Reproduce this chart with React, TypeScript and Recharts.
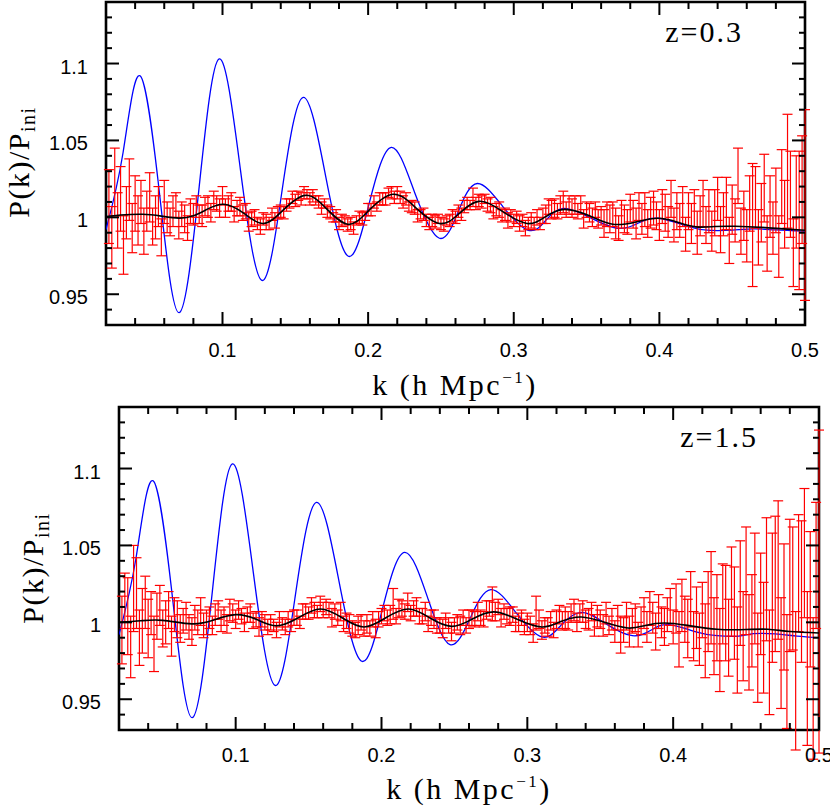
import React from 'react';
import { ComposedChart, XAxis, YAxis, Line, Scatter, ErrorBar, ReferenceArea } from 'recharts';

// k grid of the measured points (h/Mpc)
const kGrid = [
  0.022, 0.024, 0.026, 0.028, 0.03, 0.032, 0.034, 0.036, 0.038, 0.04,
  0.042, 0.044, 0.046, 0.048, 0.05, 0.052, 0.054, 0.056, 0.058, 0.06,
  0.062, 0.064, 0.066, 0.068, 0.07, 0.072, 0.074, 0.076, 0.078, 0.08,
  0.082, 0.084, 0.086, 0.088, 0.09, 0.092, 0.094, 0.096, 0.098, 0.1,
  0.102, 0.104, 0.106, 0.108, 0.11, 0.112, 0.114, 0.116, 0.118, 0.12,
  0.122, 0.124, 0.126, 0.128, 0.13, 0.132, 0.134, 0.136, 0.138, 0.14,
  0.142, 0.144, 0.146, 0.148, 0.15, 0.152, 0.154, 0.156, 0.158, 0.16,
  0.162, 0.164, 0.166, 0.168, 0.17, 0.172, 0.174, 0.176, 0.178, 0.18,
  0.182, 0.184, 0.186, 0.188, 0.19, 0.192, 0.194, 0.196, 0.198, 0.2,
  0.202, 0.204, 0.206, 0.208, 0.21, 0.212, 0.214, 0.216, 0.218, 0.22,
  0.222, 0.224, 0.226, 0.228, 0.23, 0.232, 0.234, 0.236, 0.238, 0.24,
  0.242, 0.244, 0.246, 0.248, 0.25, 0.252, 0.254, 0.256, 0.258, 0.26,
  0.262, 0.264, 0.266, 0.268, 0.27, 0.272, 0.274, 0.276, 0.278, 0.28,
  0.282, 0.284, 0.286, 0.288, 0.29, 0.292, 0.294, 0.296, 0.298, 0.3,
  0.302, 0.304, 0.306, 0.308, 0.31, 0.312, 0.314, 0.316, 0.318, 0.32,
  0.322, 0.324, 0.326, 0.328, 0.33, 0.332, 0.334, 0.336, 0.338, 0.34,
  0.342, 0.344, 0.346, 0.348, 0.35, 0.352, 0.354, 0.356, 0.358, 0.36,
  0.362, 0.364, 0.366, 0.368, 0.37, 0.372, 0.374, 0.376, 0.378, 0.38,
  0.382, 0.384, 0.386, 0.388, 0.39, 0.392, 0.394, 0.396, 0.398, 0.4,
  0.402, 0.404, 0.406, 0.408, 0.41, 0.412, 0.414, 0.416, 0.418, 0.42,
  0.422, 0.424, 0.426, 0.428, 0.43, 0.432, 0.434, 0.436, 0.438, 0.44,
  0.442, 0.444, 0.446, 0.448, 0.45, 0.452, 0.454, 0.456, 0.458, 0.46,
  0.462, 0.464, 0.466, 0.468, 0.47, 0.472, 0.474, 0.476, 0.478, 0.48,
  0.482, 0.484, 0.486, 0.488, 0.49, 0.492, 0.494, 0.496, 0.498, 0.5,
];

// z=0.3 measured ratio and 1-sigma errors
const ratioTop = [
  1.007, 0.987, 1.023, 0.998, 1.012, 0.982, 1.003, 1.018, 0.993, 1.009,
  0.998, 1.010, 0.991, 1.004, 1.013, 0.994, 1.000, 1.007, 0.987, 1.010,
  1.000, 0.997, 1.004, 1.008, 0.995, 1.002, 0.999, 0.993, 1.004, 1.002,
  1.007, 1.002, 1.001, 1.007, 1.007, 1.003, 1.011, 1.009, 1.006, 1.014,
  1.006, 1.009, 1.010, 1.002, 1.006, 1.007, 1.003, 1.004, 0.997, 0.999,
  1.000, 0.996, 0.994, 0.999, 0.997, 0.996, 1.002, 0.998, 1.003, 1.004,
  1.003, 1.008, 1.009, 1.013, 1.011, 1.014, 1.012, 1.016, 1.015, 1.012,
  1.014, 1.011, 1.010, 1.006, 1.009, 1.004, 1.003, 1.000, 1.001, 0.996,
  0.998, 0.998, 0.995, 0.996, 0.993, 0.998, 1.000, 0.999, 1.001, 1.005,
  1.005, 1.010, 1.007, 1.012, 1.012, 1.012, 1.016, 1.016, 1.013, 1.016,
  1.013, 1.010, 1.012, 1.007, 1.007, 1.006, 1.001, 1.002, 1.002, 0.998,
  0.996, 0.998, 0.997, 0.999, 0.996, 0.995, 0.998, 0.998, 1.001, 1.000,
  1.004, 1.002, 1.007, 1.009, 1.008, 1.013, 1.009, 1.011, 1.010, 1.012,
  1.008, 1.008, 1.003, 1.005, 1.005, 1.001, 1.002, 0.998, 1.001, 0.998,
  1.000, 0.996, 0.998, 0.993, 0.996, 0.998, 0.996, 1.000, 0.996, 1.001,
  1.002, 1.007, 1.005, 1.006, 1.004, 1.008, 1.010, 1.005, 1.008, 1.006,
  1.008, 1.004, 1.008, 0.999, 1.005, 1.003, 1.000, 1.005, 0.999, 1.001,
  0.996, 1.002, 0.999, 1.002, 0.996, 0.993, 1.002, 0.999, 0.997, 1.006,
  1.002, 0.996, 1.007, 0.999, 1.005, 0.996, 1.003, 1.006, 1.001, 0.995,
  1.007, 1.003, 0.997, 1.012, 0.995, 1.004, 0.998, 1.007, 0.989, 1.004,
  0.996, 1.006, 0.990, 1.001, 1.009, 0.995, 1.004, 0.991, 1.003, 1.012,
  0.992, 1.002, 1.009, 0.985, 1.005, 0.998, 1.027, 0.991, 1.001, 0.988,
  1.009, 0.995, 1.013, 0.987, 1.003, 1.019, 0.983, 1.007, 0.993, 1.011,
  0.981, 1.020, 1.002, 1.030, 1.015, 0.977, 1.010, 0.998, 1.018, 1.008,
];
const errTop = [
  0.024, 0.020, 0.022, 0.018, 0.021, 0.019, 0.017, 0.020, 0.016, 0.018,
  0.016, 0.014, 0.015, 0.013, 0.016, 0.012, 0.014, 0.013, 0.012, 0.014,
  0.010, 0.009, 0.010, 0.008, 0.009, 0.008, 0.009, 0.008, 0.008, 0.007,
  0.007, 0.006, 0.007, 0.006, 0.007, 0.006, 0.006, 0.005, 0.006, 0.006,
  0.006, 0.005, 0.006, 0.005, 0.005, 0.006, 0.005, 0.005, 0.006, 0.005,
  0.005, 0.004, 0.005, 0.004, 0.005, 0.004, 0.004, 0.005, 0.004, 0.004,
  0.004, 0.004, 0.003, 0.004, 0.004, 0.003, 0.004, 0.004, 0.003, 0.004,
  0.004, 0.003, 0.004, 0.004, 0.003, 0.004, 0.004, 0.003, 0.004, 0.004,
  0.004, 0.003, 0.004, 0.004, 0.004, 0.003, 0.004, 0.004, 0.003, 0.004,
  0.004, 0.004, 0.003, 0.004, 0.004, 0.004, 0.003, 0.004, 0.004, 0.004,
  0.004, 0.004, 0.004, 0.003, 0.004, 0.004, 0.004, 0.003, 0.004, 0.004,
  0.004, 0.004, 0.004, 0.003, 0.004, 0.004, 0.003, 0.004, 0.004, 0.004,
  0.004, 0.004, 0.004, 0.004, 0.003, 0.006, 0.004, 0.004, 0.004, 0.003,
  0.004, 0.005, 0.004, 0.004, 0.005, 0.004, 0.004, 0.005, 0.004, 0.004,
  0.004, 0.005, 0.004, 0.005, 0.004, 0.005, 0.004, 0.005, 0.004, 0.005,
  0.006, 0.005, 0.006, 0.006, 0.005, 0.006, 0.007, 0.005, 0.006, 0.006,
  0.006, 0.005, 0.006, 0.006, 0.005, 0.006, 0.006, 0.005, 0.006, 0.006,
  0.009, 0.008, 0.009, 0.008, 0.010, 0.008, 0.009, 0.009, 0.008, 0.009,
  0.009, 0.010, 0.009, 0.010, 0.011, 0.009, 0.010, 0.011, 0.009, 0.010,
  0.011, 0.012, 0.010, 0.012, 0.011, 0.012, 0.011, 0.013, 0.011, 0.012,
  0.013, 0.012, 0.014, 0.013, 0.015, 0.012, 0.014, 0.013, 0.015, 0.014,
  0.015, 0.014, 0.017, 0.015, 0.016, 0.014, 0.018, 0.015, 0.016, 0.017,
  0.018, 0.040, 0.020, 0.018, 0.019, 0.022, 0.018, 0.020, 0.017, 0.021,
  0.020, 0.024, 0.022, 0.037, 0.028, 0.022, 0.030, 0.045, 0.035, 0.062,
];

// z=1.5 measured ratio and 1-sigma errors
const ratioBottom = [
  0.995, 1.014, 1.004, 0.984, 1.022, 1.019, 0.990, 1.001, 1.013, 0.996,
  1.006, 0.986, 1.004, 1.011, 0.996, 1.000, 1.008, 0.991, 1.005, 1.002,
  0.996, 1.001, 1.004, 0.997, 0.994, 1.003, 1.000, 1.007, 0.998, 1.000,
  1.003, 0.998, 1.005, 1.008, 1.001, 1.004, 0.999, 1.008, 1.006, 1.002,
  1.008, 1.004, 1.000, 1.005, 1.006, 1.001, 1.002, 0.997, 1.002, 1.000,
  0.997, 1.000, 0.998, 0.995, 1.002, 0.999, 0.997, 1.002, 0.998, 1.003,
  1.003, 1.000, 1.007, 1.007, 1.006, 1.011, 1.008, 1.007, 1.012, 1.008,
  1.010, 1.008, 1.003, 1.007, 1.003, 1.007, 0.999, 1.001, 0.999, 0.996,
  0.995, 0.998, 1.000, 0.996, 0.999, 0.996, 1.002, 0.996, 1.002, 1.004,
  1.006, 1.003, 1.005, 1.012, 1.004, 1.009, 1.009, 1.007, 1.013, 1.006,
  1.009, 1.010, 1.004, 1.004, 1.007, 0.999, 1.003, 1.002, 0.998, 0.998,
  0.996, 1.001, 0.998, 0.994, 0.998, 1.000, 0.998, 1.003, 0.998, 1.002,
  1.003, 1.002, 1.007, 1.003, 1.002, 1.008, 1.009, 1.012, 1.007, 1.010,
  1.003, 1.007, 1.004, 1.004, 1.005, 0.999, 1.000, 1.003, 0.997, 1.000,
  0.998, 0.993, 1.006, 1.002, 0.995, 0.998, 0.997, 1.001, 0.995, 1.002,
  1.005, 1.001, 1.003, 1.001, 1.006, 1.008, 1.000, 1.006, 1.007, 1.002,
  1.002, 1.007, 0.998, 1.004, 1.002, 0.998, 1.006, 0.998, 1.002, 0.994,
  1.003, 0.992, 0.995, 1.004, 0.994, 1.001, 1.003, 0.992, 1.001, 1.006,
  0.997, 1.009, 1.003, 0.994, 1.007, 1.000, 0.997, 1.005, 1.010, 0.997,
  1.009, 0.989, 1.011, 1.002, 0.996, 1.015, 0.991, 1.003, 0.989, 1.008,
  0.988, 1.007, 1.016, 0.991, 1.003, 0.982, 1.012, 1.006, 0.990, 1.020,
  1.006, 0.982, 1.019, 0.991, 1.027, 0.987, 1.001, 1.022, 0.977, 1.012,
  0.990, 1.028, 0.974, 1.016, 1.025, 1.034, 0.980, 1.010, 0.968, 1.024,
  1.022, 0.962, 1.032, 1.020, 1.045, 0.970, 1.015, 0.957, 1.037, 1.020,
];
const errBottom = [
  0.022, 0.018, 0.025, 0.020, 0.028, 0.023, 0.018, 0.021, 0.017, 0.019,
  0.014, 0.018, 0.015, 0.013, 0.012, 0.014, 0.012, 0.013, 0.011, 0.012,
  0.009, 0.008, 0.009, 0.008, 0.009, 0.008, 0.008, 0.009, 0.008, 0.008,
  0.007, 0.006, 0.007, 0.006, 0.007, 0.006, 0.006, 0.007, 0.006, 0.006,
  0.006, 0.005, 0.006, 0.005, 0.006, 0.005, 0.005, 0.006, 0.005, 0.005,
  0.005, 0.005, 0.004, 0.005, 0.005, 0.004, 0.005, 0.005, 0.004, 0.005,
  0.005, 0.004, 0.005, 0.005, 0.004, 0.005, 0.005, 0.004, 0.005, 0.005,
  0.005, 0.005, 0.006, 0.005, 0.005, 0.006, 0.005, 0.005, 0.006, 0.005,
  0.005, 0.006, 0.005, 0.005, 0.006, 0.005, 0.005, 0.006, 0.005, 0.005,
  0.005, 0.005, 0.006, 0.010, 0.005, 0.006, 0.005, 0.005, 0.006, 0.005,
  0.005, 0.006, 0.005, 0.005, 0.006, 0.005, 0.005, 0.006, 0.005, 0.005,
  0.006, 0.005, 0.005, 0.006, 0.005, 0.005, 0.006, 0.005, 0.005, 0.006,
  0.005, 0.005, 0.006, 0.005, 0.005, 0.006, 0.005, 0.011, 0.006, 0.005,
  0.006, 0.005, 0.005, 0.006, 0.005, 0.005, 0.006, 0.005, 0.005, 0.006,
  0.006, 0.006, 0.011, 0.006, 0.006, 0.005, 0.006, 0.006, 0.005, 0.006,
  0.006, 0.006, 0.007, 0.006, 0.006, 0.007, 0.006, 0.006, 0.007, 0.006,
  0.007, 0.006, 0.007, 0.007, 0.006, 0.007, 0.007, 0.006, 0.007, 0.007,
  0.008, 0.012, 0.008, 0.009, 0.010, 0.008, 0.009, 0.008, 0.009, 0.010,
  0.010, 0.011, 0.010, 0.012, 0.011, 0.010, 0.012, 0.011, 0.012, 0.011,
  0.016, 0.018, 0.017, 0.015, 0.019, 0.018, 0.016, 0.020, 0.017, 0.018,
  0.024, 0.026, 0.030, 0.025, 0.028, 0.027, 0.026, 0.031, 0.025, 0.029,
  0.030, 0.028, 0.034, 0.029, 0.035, 0.031, 0.030, 0.036, 0.029, 0.033,
  0.036, 0.040, 0.034, 0.042, 0.044, 0.045, 0.036, 0.041, 0.037, 0.043,
  0.040, 0.045, 0.038, 0.046, 0.042, 0.050, 0.044, 0.046, 0.041, 0.105,
];

// linear theory (blue)
const linearTopK = [
  0.02, 0.0317, 0.0434, 0.0568, 0.0702, 0.084, 0.0977, 0.1123, 0.127, 0.141,
  0.1554, 0.171, 0.1864, 0.201, 0.2159, 0.232, 0.2489, 0.262, 0.275, 0.2925,
  0.31, 0.322, 0.334, 0.352, 0.371, 0.385, 0.399, 0.42, 0.435, 0.45,
  0.465, 0.48, 0.5,
];
const linearTop = [
  0.992, 1.042, 1.092, 1.015, 0.938, 1.020, 1.103, 1.031, 0.959, 1.018,
  1.078, 1.026, 0.9747, 1.010, 1.0455, 1.016, 0.9864, 1.004, 1.022, 1.007,
  0.9916, 0.998, 1.0058, 1.0, 0.9929, 0.996, 0.9994, 0.994, 0.9915, 0.9917,
  0.9925, 0.9918, 0.991,
];
const linearBottomK = [
  0.02, 0.0317, 0.0434, 0.0568, 0.0702, 0.084, 0.0977, 0.1123, 0.127, 0.141,
  0.1554, 0.171, 0.1864, 0.201, 0.2159, 0.232, 0.247, 0.261, 0.275, 0.2925,
  0.31, 0.323, 0.337, 0.354, 0.372, 0.385, 0.397, 0.415, 0.43, 0.445,
  0.455, 0.47, 0.485, 0.5,
];
const linearBottom = [
  0.992, 1.042, 1.092, 1.015, 0.938, 1.020, 1.103, 1.031, 0.959, 1.018,
  1.078, 1.026, 0.9747, 1.010, 1.0455, 1.015, 0.9855, 1.003, 1.0213, 1.006,
  0.9905, 0.998, 1.0065, 0.999, 0.9913, 0.995, 0.9985, 0.994, 0.9913, 0.991,
  0.9926, 0.9925, 0.991, 0.99,
];

// non-linear model (black)
const modelTopK = [
  0.02, 0.03, 0.045, 0.058, 0.07, 0.08, 0.09, 0.101, 0.114, 0.128,
  0.142, 0.157, 0.171, 0.186, 0.2, 0.217, 0.233, 0.249, 0.262, 0.276,
  0.292, 0.309, 0.322, 0.335, 0.352, 0.368, 0.384, 0.399, 0.412, 0.425,
  0.438, 0.452, 0.47, 0.485, 0.5,
];
const modelTop = [
  1.0005, 1.0015, 1.002, 1.0008, 0.9995, 1.001, 1.0055, 1.0085, 1.003, 0.996,
  1.005, 1.0143, 1.006, 0.9955, 1.004, 1.015, 1.006, 0.996, 1.002, 1.0104,
  1.004, 0.996, 1.0005, 1.0052, 1.001, 0.9955, 0.997, 0.9994, 0.997, 0.9938,
  0.994, 0.9942, 0.9935, 0.9925, 0.9916,
];
const modelBottomK = [
  0.02, 0.035, 0.05, 0.07, 0.085, 0.1, 0.114, 0.128, 0.143, 0.158,
  0.173, 0.188, 0.203, 0.2185, 0.233, 0.248, 0.262, 0.277, 0.293, 0.31,
  0.323, 0.337, 0.353, 0.369, 0.381, 0.394, 0.41, 0.43, 0.45, 0.465,
  0.48, 0.5,
];
const modelBottom = [
  1.0, 1.001, 1.0013, 0.999, 1.0015, 1.005, 1.002, 0.9978, 1.003, 1.0087,
  1.003, 0.997, 1.003, 1.0087, 1.003, 0.9974, 1.002, 1.0068, 1.002, 0.997,
  1.0005, 1.0035, 1.0, 0.9963, 0.998, 0.9996, 0.998, 0.9955, 0.9953, 0.9955,
  0.994, 0.9931,
];

const xTicks = [
  0.02, 0.04, 0.06, 0.08, 0.1, 0.12, 0.14, 0.16, 0.18, 0.2, 0.22, 0.24, 0.26,
  0.28, 0.3, 0.32, 0.34, 0.36, 0.38, 0.4, 0.42, 0.44, 0.46, 0.48, 0.5,
];
const xLabelled = [0.1, 0.2, 0.3, 0.4, 0.5];
const yTicks = [
  0.93, 0.94, 0.95, 0.96, 0.97, 0.98, 0.99, 1, 1.01, 1.02, 1.03,
  1.04, 1.05, 1.06, 1.07, 1.08, 1.09, 1.1, 1.11, 1.12, 1.13, 1.14,
];
const yLabelled = [0.95, 1, 1.05, 1.1];

const SANS = '"Liberation Sans", Arial, Helvetica, sans-serif';
const SERIF = '"Liberation Serif", "Times New Roman", serif';

const isIn = (list: number[], v: number) => list.some((m) => Math.abs(m - v) < 1e-9);

function XTick(props: any) {
  const { x, y, payload, plotH } = props;
  const major = isIn(xLabelled, payload.value);
  const len = major ? 13 : 7;
  return (
    <g>
      <line x1={x} y1={y} x2={x} y2={y - len} stroke="#000" strokeWidth={2} />
      <line x1={x} y1={y - plotH} x2={x} y2={y - plotH + len} stroke="#000" strokeWidth={2} />
      {major && (
        <text x={x} y={y + 32} textAnchor="middle" fontFamily={SANS} fontSize={20} fill="#000">
          {String(payload.value)}
        </text>
      )}
    </g>
  );
}

function YTick(props: any) {
  const { x, y, payload, plotW } = props;
  const major = isIn(yLabelled, payload.value);
  const len = major ? 13 : 6;
  return (
    <g>
      <line x1={x} y1={y} x2={x + len} y2={y} stroke="#000" strokeWidth={2} />
      <line x1={x + plotW} y1={y} x2={x + plotW - len} y2={y} stroke="#000" strokeWidth={2} />
      {major && (
        <text x={x - 18} y={y + 10} textAnchor="end" fontFamily={SANS} fontSize={20} fill="#000">
          {String(payload.value)}
        </text>
      )}
    </g>
  );
}

function XTitle({ tx, ty }: any) {
  return (
    <text x={tx} y={ty} textAnchor="middle" fontFamily={SERIF} fontSize={30} letterSpacing={2.5} fill="#000">
      k  (h  Mpc<tspan fontSize={17} dy={-12}>−1</tspan>
      <tspan dy={12}>)</tspan>
    </text>
  );
}

function YTitle({ tx, ty, zx, zy, z }: any) {
  return (
    <g>
      <text
        transform={`translate(${tx},${ty}) rotate(-90)`}
        textAnchor="middle"
        fontFamily={SERIF}
        fontSize={30}
        letterSpacing={1.5}
        fill="#000"
      >
        P(k)/P<tspan fontSize={20} dy={6}>ini</tspan>
      </text>
      <text x={zx} y={zy} textAnchor="end" fontFamily={SERIF} fontSize={30} letterSpacing={2} fill="#000">
        {z}
      </text>
    </g>
  );
}

const EmptyShape = () => <g />;

function Panel({ ratio, err, linK, lin, modK, mod, height, margin, plotW, plotH, xTitle, yTitle }: any) {
  const points = kGrid.map((k, i) => ({ k, v: ratio[i], e: err[i] }));
  const linearPts = linK.map((k: number, i: number) => ({ k, v: lin[i] }));
  const modelPts = modK.map((k: number, i: number) => ({ k, v: mod[i] }));
  return (
    <ComposedChart width={830} height={height} margin={margin}>
      <XAxis
        type="number"
        dataKey="k"
        domain={[0.02, 0.5]}
        ticks={xTicks}
        interval={0}
        allowDataOverflow
        axisLine={false}
        tickLine={false}
        tickSize={0}
        tickMargin={0}
        height={30}
        tick={(p: any) => <XTick {...p} plotH={plotH} />}
        label={xTitle}
      />
      <YAxis
        type="number"
        dataKey="v"
        domain={[0.93, 1.14]}
        ticks={yTicks}
        interval={0}
        allowDataOverflow
        axisLine={false}
        tickLine={false}
        tickSize={0}
        tickMargin={0}
        width={60}
        tick={(p: any) => <YTick {...p} plotW={plotW} />}
        label={yTitle}
      />
      <Line
        data={linearPts}
        dataKey="v"
        type="natural"
        stroke="#0000ff"
        strokeWidth={1.3}
        dot={false}
        isAnimationActive={false}
      />
      <Scatter data={points} dataKey="v" shape={EmptyShape} isAnimationActive={false}>
        <ErrorBar dataKey="e" direction="y" width={5} stroke="#ff0000" strokeWidth={1.2} isAnimationActive={false} />
      </Scatter>
      <Line
        data={modelPts}
        dataKey="v"
        type="natural"
        stroke="#000000"
        strokeWidth={1.6}
        dot={false}
        isAnimationActive={false}
      />
      <ReferenceArea
        x1={0.02}
        x2={0.5}
        y1={0.93}
        y2={1.14}
        fill="none"
        stroke="#000"
        strokeWidth={2.6}
        ifOverflow="visible"
      />
    </ComposedChart>
  );
}

export default function App() {
  return (
    <div style={{ position: 'absolute', left: 0, top: 0, width: 830, height: 808, background: '#fff' }}>
      <div style={{ position: 'absolute', left: 0, top: 0 }}>
        <Panel
          ratio={ratioTop}
          err={errTop}
          linK={linearTopK}
          lin={linearTop}
          modK={modelTopK}
          mod={modelTop}
          height={410}
          margin={{ top: 2, right: 25, bottom: 55, left: 46 }}
          plotW={699}
          plotH={323}
          xTitle={<XTitle tx={455} ty={395} />}
          yTitle={<YTitle tx={29} ty={162} zx={743} zy={42} z="z=0.3" />}
        />
      </div>
      <div style={{ position: 'absolute', left: 0, top: 396 }}>
        <Panel
          ratio={ratioBottom}
          err={errBottom}
          linK={linearBottomK}
          lin={linearBottom}
          modK={modelBottomK}
          mod={modelBottom}
          height={412}
          margin={{ top: 11, right: 11, bottom: 48, left: 59 }}
          plotW={700}
          plotH={323}
          xTitle={<XTitle tx={469} ty={403} />}
          yTitle={<YTitle tx={43} ty={172} zx={758} zy={51} z="z=1.5" />}
        />
      </div>
    </div>
  );
}
